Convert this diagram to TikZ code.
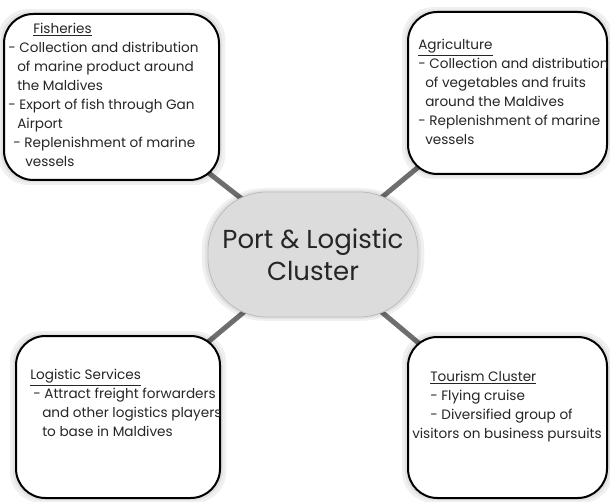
\documentclass[tikz,border=0pt]{standalone}
\usepackage{fontspec}
\setmainfont{Poppins}
\usetikzlibrary{shadows,backgrounds}
\definecolor{linkgray}{HTML}{6E6E6E}
\definecolor{hubgray}{HTML}{DCDCDC}
\definecolor{inkgray}{HTML}{262626}
\begin{document}
\begin{tikzpicture}[x=0.75pt,y=-0.75pt]
	\tikzstyle{Glow} = [general shadow={fill=black, opacity=0.06, shadow scale=1.06},
	                    general shadow={fill=black, opacity=0.06, shadow scale=1.03}]
	\tikzstyle{Box} = [rectangle, rounded corners=22pt, draw=black, line width=1.5pt, fill=white, Glow]
	\tikzstyle{Hub} = [rectangle, rounded corners=44pt, draw=hubgray!85!black, line width=0.6pt, fill=hubgray,
	                   minimum width=157.5pt, minimum height=93.75pt, Glow]
	\tikzstyle{Txt} = [anchor=north west, inner sep=0pt, align=left, text=inkgray,
	                   font=\fontsize{10.2}{14.25}\selectfont]
	\tikzstyle{link} = [line width=3.75pt, linkgray]

	\useasboundingbox (0,0) rectangle (610,502);

	% boxes
	\node (fish) [Box, minimum width=161.25pt, minimum height=124.5pt] at (111.5,97) {};
	\node (agri) [Box, minimum width=149.25pt, minimum height=121.5pt] at (507.5,93) {};
	\node (logi) [Box, minimum width=153pt, minimum height=121.5pt] at (118,417) {};
	\node (tour) [Box, minimum width=149.25pt, minimum height=120.75pt] at (507.5,417.5) {};
	\node (hub) [Hub] at (313,254.5) {};

	% connectors
	\begin{scope}[on background layer]
	\draw [link] (hub.center) -- (fish.center);
	\draw [link] (hub.center) -- (agri.center);
	\draw [link] (hub.center) -- (logi.center);
	\draw [link] (hub.center) -- (tour.center);
	\end{scope}

	% texts
	\node (hubtext) [align=center, text=inkgray, font=\fontsize{19.5}{24}\selectfont] at (hub.center)
		{Port \& Logistic\\Cluster};
	\node (fishtext) [Txt] at (8,23) {\hspace*{18.75pt}\underline{Fisheries}\\
		- Collection and distribution\\
		\hspace*{6.75pt}of marine product around\\
		\hspace*{6.75pt}the Maldives\\
		- Export of fish through Gan\\
		\hspace*{6.75pt}Airport\\
		\hspace*{3.75pt}- Replenishment of marine\\
		\hspace*{12.75pt}vessels};
	\node (agritext) [Txt] at (418,39) {\underline{Agriculture}\\
		- Collection and distribution\\
		\hspace*{5.25pt}of vegetables and fruits\\
		\hspace*{5.25pt}around the Maldives\\
		- Replenishment of marine\\
		\hspace*{5.25pt}vessels};
	\node (logitext) [Txt] at (30,369) {\underline{Logistic Services}\\
		\hspace*{2.25pt}- Attract freight forwarders\\
		\hspace*{9pt}and other logistics players\\
		\hspace*{9pt}to base in Maldives};
	\node (tourtext) [Txt] at (412,371) {\hspace*{13.5pt}\underline{Tourism Cluster}\\
		\hspace*{13.5pt}- Flying cruise\\
		\hspace*{13.5pt}- Diversified group of\\
		visitors on business pursuits};
\end{tikzpicture}
\end{document}
